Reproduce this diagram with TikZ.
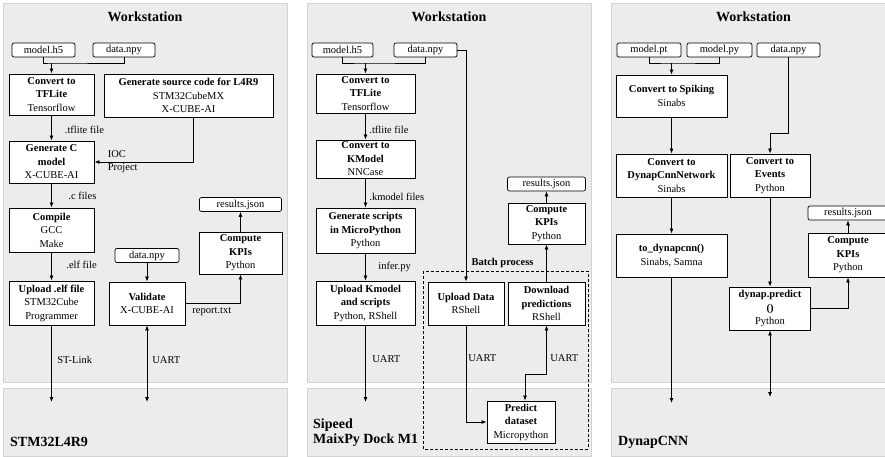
\documentclass[tikz,border=0pt]{standalone}
\usepackage{fontspec}
\setmainfont{Liberation Serif}
\usetikzlibrary{arrows.meta}

\tikzset{
  panel/.style={fill=gray!15,draw=gray!35,line width=1pt},
  proc/.style={draw,line width=0.9pt,fill=white,align=center,inner sep=1pt,font=\fontsize{10.5}{13.5}\selectfont},
  file/.style={draw,line width=0.7pt,fill=white,rounded corners=2pt,inner sep=1pt,minimum height=14pt,font=\fontsize{10.5}{12}\selectfont},
  lbl/.style={anchor=west,inner sep=0pt,align=left,font=\fontsize{10.5}{13}\selectfont},
  ttl/.style={inner sep=0pt,font=\fontsize{14}{15}\selectfont\bfseries},
  ln/.style={line width=0.8pt},
  arr/.style={ln,-{Latex[length=5pt,width=4pt]}},
  darr/.style={ln,{Latex[length=5pt,width=4pt]}-{Latex[length=5pt,width=4pt]}}
}

\begin{document}
\begin{tikzpicture}[x=1pt,y=-1pt]
  \useasboundingbox (0,0) rectangle (885,457);
  % panels
  \draw[panel] (3,4) rectangle (287,382); \draw[panel] (3,388) rectangle (287,456);
  \draw[panel] (307,4) rectangle (591,382); \draw[panel] (307,388) rectangle (591,456);
  \draw[panel] (611,4) rectangle (896,382); \draw[panel] (611,388) rectangle (896,456);
  \node[ttl] (ws1) at (145,17) {Workstation};
  \node[ttl] (ws2) at (449,17) {Workstation};
  \node[ttl] (ws3) at (753.5,17) {Workstation};
  \node[ttl,anchor=west] (stm) at (10,442) {STM32L4R9};
  \node[ttl,anchor=west,align=left] (sip) at (313,432.5) {Sipeed\\MaixPy Dock M1};
  \node[ttl,anchor=west] (dyn) at (618,442) {DynapCNN};

  % STM32L4R9
  \node[file,minimum width=63pt] (h5a) at (43.5,50) {model.h5};
  \node[file,minimum width=62pt] (npya) at (124,50) {data.npy};
  \node[proc,minimum width=85pt,minimum height=41pt] (tfla) at (51.5,94.5) {\textbf{Convert to}\\\textbf{TFLite}\\Tensorflow};
  \node[proc,minimum width=169pt,minimum height=43pt] (gsrc) at (188.5,95.5) {\textbf{Generate source code for L4R9}\\STM32CubeMX\\X-CUBE-AI};
  \node[proc,minimum width=85pt,minimum height=42pt] (genc) at (51.5,162) {\textbf{Generate C}\\\textbf{model}\\X-CUBE-AI};
  \node[proc,minimum width=85pt,minimum height=44pt] (comp) at (51.5,230) {\textbf{Compile}\\GCC\\Make};
  \node[proc,minimum width=85pt,minimum height=44pt] (uelf) at (51.5,303) {\textbf{Upload .elf file}\\STM32Cube\\Programmer};
  \node[file,minimum width=64pt] (npyb) at (147,255.5) {data.npy};
  \node[proc,minimum width=76pt,minimum height=43pt] (val) at (147,303.5) {\textbf{Validate}\\X-CUBE-AI};
  \node[proc,minimum width=83pt,minimum height=42pt] (kpia) at (240.5,253) {\textbf{Compute}\\\textbf{KPIs}\\Python};
  \node[file,minimum width=82pt] (resa) at (240.5,204.5) {results.json};
  \coordinate (j1) at (51.5,63); \coordinate (sl) at (51.5,402); \coordinate (ua) at (147,402);
  \draw[ln] (h5a.south) |- (j1) -| (npya.south);
  \draw[arr] (j1) -- (tfla.north);
  \draw[arr] (tfla) -- (genc) node[midway,lbl,xshift=13pt,yshift=-2pt] {.tflite file};
  \draw[arr] ([xshift=4.5pt]gsrc.south) |- (genc.east) node[pos=0.934,lbl,yshift=0.5pt] {IOC\\Project};
  \draw[arr] (genc) -- (comp) node[midway,lbl,xshift=16.5pt] {.c files};
  \draw[arr] (comp) -- (uelf) node[midway,lbl,xshift=14.5pt,yshift=1.5pt] {.elf file};
  \draw[arr] (uelf) -- (sl) node[midway,lbl,xshift=5.5pt,yshift=4pt] {ST-Link};
  \draw[arr] (npyb) -- (val);
  \draw[darr] (val) -- (ua) node[midway,lbl,xshift=5pt,yshift=4pt] {UART};
  \draw[arr] (val.east) -| (kpia.south) node[pos=0.06,lbl,yshift=-8.5pt] {report.txt};
  \draw[arr] (kpia) -- (resa);

  % Sipeed MaixPy Dock M1
  \node[file,minimum width=61pt] (h5b) at (342.5,50) {model.h5};
  \node[file,minimum width=63pt] (npyc) at (425.5,50) {data.npy};
  \node[proc,minimum width=99pt,minimum height=39pt] (tflb) at (365.5,93.5) {\textbf{Convert to}\\\textbf{TFLite}\\Tensorflow};
  \node[proc,minimum width=99pt,minimum height=38pt] (kmod) at (365.5,159) {\textbf{Convert to}\\\textbf{KModel}\\NNCase};
  \node[proc,minimum width=99pt,minimum height=45pt] (gscr) at (365.5,230.5) {\textbf{Generate scripts}\\\textbf{in MicroPython}\\Python};
  \node[proc,minimum width=99pt,minimum height=44pt] (ukm) at (365.5,303) {\textbf{Upload Kmodel}\\\textbf{and scripts}\\Python, RShell};
  \draw[ln,dash pattern=on 3pt off 2pt] (423,271) rectangle (588,449);
  \node[lbl,anchor=center,font=\fontsize{10.5}{12}\selectfont\bfseries] (bp) at (502.5,263) {Batch process};
  \node[proc,minimum width=76pt,minimum height=43pt] (updt) at (466,303.5) {\textbf{Upload Data}\\RShell};
  \node[proc,minimum width=77pt,minimum height=43pt] (dlp) at (546.5,303.5) {\textbf{Download}\\\textbf{predictions}\\RShell};
  \node[proc,minimum width=77pt,minimum height=41pt] (kpib) at (546.5,223.5) {\textbf{Compute}\\\textbf{KPIs}\\Python};
  \node[file,minimum width=78pt] (resb) at (546.5,184) {results.json};
  \node[proc,minimum width=68pt,minimum height=42pt] (pred) at (521,422) {\textbf{Predict}\\\textbf{dataset}\\Micropython};
  \coordinate (j2) at (365.5,63); \coordinate (ub) at (365.5,402);
  \draw[ln] (h5b.south) |- (j2) -| (npyc.south);
  \draw[arr] (j2) -- (tflb.north);
  \draw[arr] (tflb) -- (kmod) node[midway,lbl,xshift=3.5pt,yshift=-3pt] {.tflite file};
  \draw[arr] (kmod) -- (gscr) node[midway,lbl,xshift=3.5pt,yshift=-4pt] {.kmodel files};
  \draw[arr] (gscr) -- (ukm) node[midway,lbl,xshift=12.5pt] {infer.py};
  \draw[arr] (ukm) -- (ub) node[midway,lbl,xshift=6.5pt,yshift=5pt] {UART};
  \draw[arr] (npyc.east) -| (updt.north);
  \draw[arr] (updt.south) |- (pred.west) node[pos=0.17,lbl,xshift=2pt] {UART};
  \draw[darr] ([xshift=4pt]pred.north) -- ++(0,-26) -| (dlp.south) node[pos=0.67,lbl,xshift=3.5pt] {UART};
  \draw[arr] (dlp) -- (kpib);
  \draw[arr] (kpib) -- (resb);

  % DynapCNN
  \node[file,minimum width=64pt] (mpt) at (649,50) {model.pt};
  \node[file,minimum width=65pt] (mpy) at (719.5,50) {model.py};
  \node[file,minimum width=63pt] (npyd) at (788.5,50) {data.npy};
  \node[proc,minimum width=111pt,minimum height=42pt] (spk) at (671.5,96) {\textbf{Convert to Spiking}\\Sinabs};
  \node[proc,minimum width=111pt,minimum height=43pt] (dcn) at (671.5,175.5) {\textbf{Convert to}\\\textbf{DynapCnnNetwork}\\Sinabs};
  \node[proc,minimum width=80pt,minimum height=43pt] (evt) at (770,175.5) {\textbf{Convert to}\\\textbf{Events}\\Python};
  \node[proc,minimum width=111pt,minimum height=43pt] (tdn) at (671.5,255.5) {\textbf{to\_dynapcnn()}\\Sinabs, Samna};
  \node[proc,minimum width=81pt,minimum height=43pt] (dpr) at (770,308.5) {\textbf{dynap.predict}\\\textbf{()}\\Python};
  \node[proc,minimum width=80pt,minimum height=44pt] (kpic) at (848,255) {\textbf{Compute}\\\textbf{KPIs}\\Python};
  \node[file,minimum width=80pt] (resc) at (848,213) {results.json};
  \coordinate (j3) at (671.5,63); \coordinate (td) at (671.5,403); \coordinate (dd) at (770,397);
  \draw[ln] (mpt.south) |- (j3) -| (mpy.south);
  \draw[arr] (j3) -- (spk.north);
  \draw[arr] (spk) -- (dcn);
  \draw[arr] (dcn) -- (tdn);
  \draw[arr] (tdn) -- (td);
  \draw[arr] (npyd.south) -- ++(0,76) -| (evt.north);
  \draw[arr] (evt) -- (dpr);
  \draw[darr] (dpr) -- (dd);
  \draw[arr] (dpr.east) -| (kpic.south);
  \draw[arr] (kpic) -- (resc);
\end{tikzpicture}
\end{document}
